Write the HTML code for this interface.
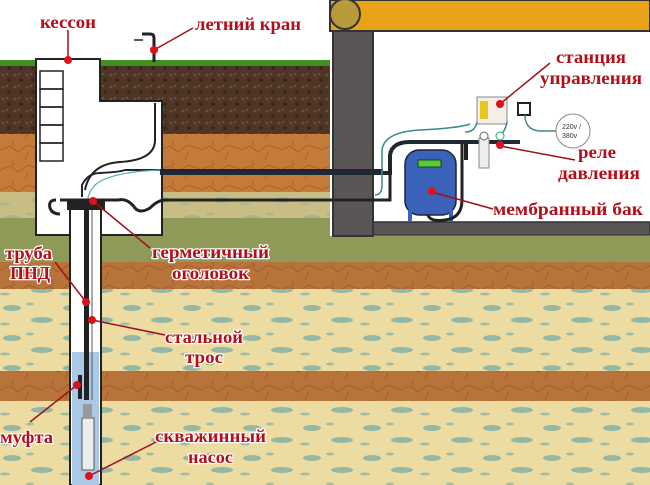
<!DOCTYPE html>
<html><head><meta charset="utf-8"><style>
html,body{margin:0;padding:0;background:#fff}
svg{display:block}
.t{font-family:"Liberation Serif","DejaVu Serif",serif;font-size:18px;font-weight:bold;fill:#b0101a;stroke:#fff;stroke-width:2.5px;paint-order:stroke;stroke-linejoin:round}
</style></head><body>
<svg width="650" height="485" viewBox="0 0 650 485" xmlns="http://www.w3.org/2000/svg">
<defs>
<pattern id="crack" width="40" height="20" patternUnits="userSpaceOnUse">
<path d="M0 10 L10 6 L18 12 L28 5 L40 9 M12 0 L14 6 M25 20 L28 12" stroke="#8a4a1a" stroke-width="0.8" fill="none" opacity="0.6"/>
</pattern>
<pattern id="dots" width="60" height="30" patternUnits="userSpaceOnUse">
<ellipse cx="12" cy="8" rx="9" ry="3" fill="#6fa9a8" opacity="0.7"/>
<ellipse cx="42" cy="20" rx="11" ry="3" fill="#6fa9a8" opacity="0.7"/>
<ellipse cx="30" cy="4" rx="4" ry="1.5" fill="#6fa9a8" opacity="0.6"/>
<ellipse cx="5" cy="24" rx="5" ry="1.5" fill="#6fa9a8" opacity="0.6"/>
</pattern>
<pattern id="soil" width="12" height="12" patternUnits="userSpaceOnUse">
<rect width="12" height="12" fill="#4e3525"/>
<circle cx="3" cy="3" r="1.5" fill="#6b4c38"/><circle cx="9" cy="8" r="1.8" fill="#3a2518"/><circle cx="7" cy="2" r="1" fill="#7a5a44"/>
</pattern>
</defs>
<rect width="650" height="485" fill="#fff"/>
<rect x="0" y="64" width="650" height="72" fill="url(#soil)"/>
<rect x="0" y="60" width="650" height="6" fill="#3f8f25"/>
<rect x="0" y="134" width="650" height="60" fill="#c47b3a"/>
<rect x="0" y="134" width="650" height="60" fill="url(#crack)"/>
<rect x="0" y="192" width="650" height="28" fill="#c9bd86"/>
<rect x="0" y="192" width="650" height="28" fill="url(#dots)" opacity="0.6"/>
<rect x="0" y="218" width="650" height="46" fill="#8f9a58"/>
<rect x="0" y="262" width="650" height="29" fill="#b8733a"/>
<rect x="0" y="262" width="650" height="29" fill="url(#crack)"/>
<rect x="0" y="289" width="650" height="84" fill="#ecdca2"/>
<rect x="0" y="289" width="650" height="84" fill="url(#dots)"/>
<rect x="0" y="371" width="650" height="32" fill="#b8733a"/>
<rect x="0" y="371" width="650" height="32" fill="url(#crack)"/>
<rect x="0" y="401" width="650" height="84" fill="#ecdca2"/>
<rect x="0" y="401" width="650" height="84" fill="url(#dots)"/>
<rect x="330" y="0" width="320" height="236" fill="#fff"/>
<rect x="330" y="0" width="320" height="31" fill="#e8a318" stroke="#333" stroke-width="2"/>
<circle cx="345" cy="14" r="15" fill="#b89a3a" stroke="#333" stroke-width="2"/>
<rect x="333" y="31" width="40" height="205" fill="#5a5656" stroke="#333" stroke-width="2"/>
<rect x="373" y="222" width="277" height="13" fill="#5a5656" stroke="#333" stroke-width="1.5"/>
<line x1="333" y1="172" x2="373" y2="172" stroke="#333"/>
<rect x="36" y="59" width="64" height="44" fill="#fff" stroke="#222" stroke-width="2"/>
<rect x="36" y="101" width="126" height="134" fill="#fff" stroke="#222" stroke-width="2"/>
<rect x="37" y="95" width="62" height="10" fill="#fff"/>
<g fill="none" stroke="#222" stroke-width="1.5">
<rect x="40" y="71" width="23" height="18"/><rect x="40" y="89" width="23" height="18"/><rect x="40" y="107" width="23" height="18"/><rect x="40" y="125" width="23" height="18"/><rect x="40" y="143" width="23" height="18"/>
</g>
<path d="M154 62 V38 Q154 34 150 34 H142" stroke="#222" stroke-width="3" fill="none"/>
<line x1="134" y1="40" x2="143" y2="40" stroke="#222" stroke-width="1.5"/>
<path d="M82 197 V185 Q88 173 100 173 Q120 172 125 170 H383" stroke="#223" stroke-width="2" fill="none"/>
<path d="M160 173 H390 V155 Q392 142 410 142 H520" stroke="#1e2a33" stroke-width="4" fill="none"/>
<path d="M88 205 Q86 195 95 185 Q110 172 160 170" stroke="#5aa" stroke-width="1.2" fill="none"/>
<path d="M85 190 Q90 164 120 162 Q155 160 155 140 V103" stroke="#222" stroke-width="2" fill="none"/>
<path d="M56 200 Q48 200 50 208 Q52 214 60 214 M60 200 H118 Q128 198 135 208 Q140 214 150 208 Q158 200 165 200 H390 V160" stroke="#222" stroke-width="3" fill="none"/>
<path d="M375 195 Q382 195 382 185 V150 Q384 132 420 130 Q460 128 470 124" stroke="#3a8a88" stroke-width="1.5" fill="none"/>
<rect x="70" y="205" width="31" height="280" fill="#fff" stroke="#222" stroke-width="2"/>
<rect x="72" y="352" width="27" height="133" fill="#a9c9e6"/>
<rect x="67" y="200" width="38" height="10" fill="#222"/>
<rect x="84" y="205" width="5" height="195" fill="#222"/>
<line x1="92" y1="210" x2="92" y2="400" stroke="#555" stroke-width="1"/>
<rect x="78" y="375" width="4" height="24" fill="#222"/>
<rect x="82" y="418" width="12" height="52" fill="#eee" stroke="#555" stroke-width="1"/>
<rect x="83" y="404" width="9" height="14" fill="#999"/>
<rect x="477" y="97" width="30" height="27" fill="#f3efe4" stroke="#888"/>
<rect x="480" y="101" width="8" height="18" fill="#e6c81e"/>
<rect x="518" y="103" width="12" height="12" fill="#fff" stroke="#222" stroke-width="2"/>
<path d="M477 122 Q475 132 465 132 M507 122 Q505 132 500 135 M525 115 Q525 130 540 131 H560" stroke="#3a8a88" stroke-width="1.5" fill="none"/>
<circle cx="573" cy="131" r="17" fill="#fff" stroke="#888"/>
<text x="562" y="129" font-family="Liberation Sans,sans-serif" font-size="7" fill="#333">220v /</text>
<text x="562" y="138" font-family="Liberation Sans,sans-serif" font-size="7" fill="#333">380v</text>
<rect x="479" y="138" width="10" height="30" fill="#eee" stroke="#888"/>
<circle cx="484" cy="136" r="4" fill="#fff" stroke="#666"/>
<circle cx="500" cy="136" r="4" fill="#fff" stroke="#2a6"/>
<path d="M466 142 V160" stroke="#222" stroke-width="4"/>
<rect x="405" y="150" width="51" height="65" rx="14" fill="#3a62b8" stroke="#223" stroke-width="1.5"/>
<rect x="418" y="160" width="23" height="7" fill="#5c3" stroke="#222" stroke-width="0.8"/>
<path d="M410 210 V222 M451 210 V222" stroke="#3a62b8" stroke-width="4"/>
<path d="M428 215 Q430 222 445 220 Q462 218 462 200 V142" stroke="#222" stroke-width="3" fill="none"/>
<g stroke="#a0101a" stroke-width="1.5" fill="none">
<line x1="68" y1="30" x2="68" y2="59"/>
<line x1="154" y1="50" x2="193" y2="28"/>
<line x1="500" y1="104" x2="550" y2="63"/>
<line x1="500" y1="146" x2="575" y2="160"/>
<line x1="432" y1="192" x2="493" y2="209"/>
<line x1="93" y1="201" x2="150" y2="248"/>
<line x1="55" y1="262" x2="86" y2="302"/>
<line x1="92" y1="320" x2="165" y2="335"/>
<line x1="77" y1="385" x2="30" y2="422"/>
<line x1="89" y1="476" x2="160" y2="440"/>
</g>
<g fill="#e0101a">
<circle cx="68" cy="60" r="4"/><circle cx="154" cy="50" r="4"/><circle cx="500" cy="104" r="4"/>
<circle cx="500" cy="145" r="4"/><circle cx="432" cy="191" r="4"/><circle cx="93" cy="201" r="4"/>
<circle cx="86" cy="302" r="4"/><circle cx="92" cy="320" r="4"/><circle cx="77" cy="385" r="4"/><circle cx="89" cy="476" r="4"/>
</g>
<g class="t" lengthAdjust="spacingAndGlyphs">
<text x="40" y="28" textLength="56" lengthAdjust="spacingAndGlyphs">кессон</text>
<text x="195" y="30" textLength="106" lengthAdjust="spacingAndGlyphs">летний кран</text>
<text x="556" y="63" textLength="70" lengthAdjust="spacingAndGlyphs">станция</text>
<text x="540" y="84" textLength="102" lengthAdjust="spacingAndGlyphs">управления</text>
<text x="578" y="158" textLength="38" lengthAdjust="spacingAndGlyphs">реле</text>
<text x="558" y="179" textLength="82" lengthAdjust="spacingAndGlyphs">давления</text>
<text x="493" y="215" textLength="150" lengthAdjust="spacingAndGlyphs">мембранный бак</text>
<text x="152" y="258" textLength="117" lengthAdjust="spacingAndGlyphs">герметичный</text>
<text x="172" y="279" textLength="77" lengthAdjust="spacingAndGlyphs">оголовок</text>
<text x="5" y="259" textLength="47" lengthAdjust="spacingAndGlyphs">труба</text>
<text x="10" y="279" textLength="40" lengthAdjust="spacingAndGlyphs">ПНД</text>
<text x="165" y="343" textLength="78" lengthAdjust="spacingAndGlyphs">стальной</text>
<text x="185" y="363" textLength="38" lengthAdjust="spacingAndGlyphs">трос</text>
<text x="0" y="443" textLength="53" lengthAdjust="spacingAndGlyphs">муфта</text>
<text x="155" y="442" textLength="111" lengthAdjust="spacingAndGlyphs">скважинный</text>
<text x="188" y="463" textLength="45" lengthAdjust="spacingAndGlyphs">насос</text>
</g>
</svg>
</body></html>
